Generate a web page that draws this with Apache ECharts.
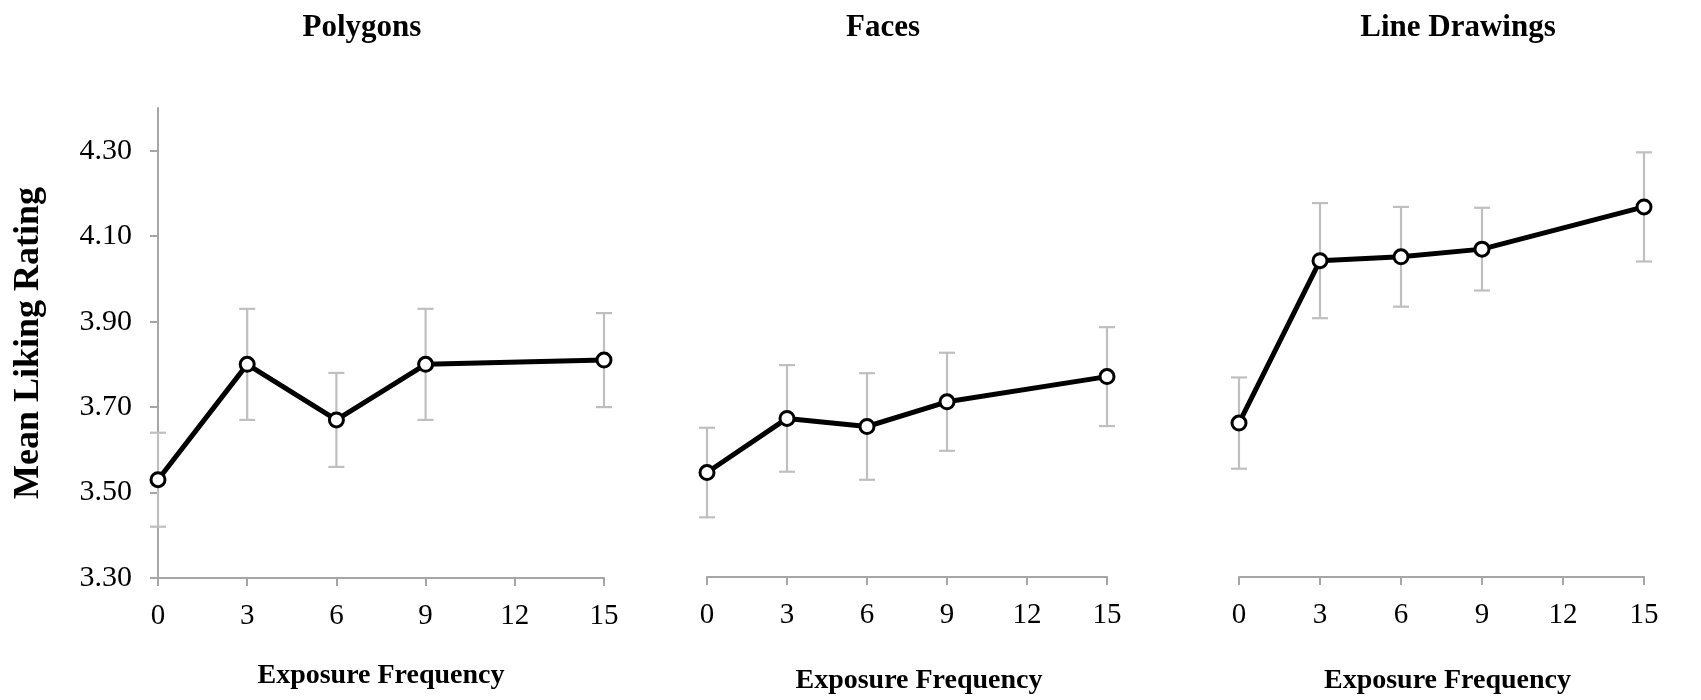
<!DOCTYPE html>
<html>
<head>
<meta charset="utf-8">
<script src="https://cdn.jsdelivr.net/npm/echarts@6/dist/echarts.min.js"></script>
<style>html,body{margin:0;padding:0;background:#fff;}#c{width:1701px;height:700px;}</style>
</head>
<body>
<div id="c"></div>
<script>
const panelTitles = ['Polygons', 'Faces', 'Line Drawings'];
const exposure = [0, 3, 6, 9, 15];
const xTicks = [0, 3, 6, 9, 12, 15];
const yTicks = [3.3, 3.5, 3.7, 3.9, 4.1, 4.3];
const polygonsMean = [3.53, 3.80, 3.67, 3.80, 3.81];
const polygonsErr  = [0.11, 0.13, 0.11, 0.13, 0.11];
const facesMean    = [3.545, 3.672, 3.653, 3.711, 3.770];
const facesErr     = [0.105, 0.125, 0.125, 0.115, 0.116];
const lineMean     = [3.661, 4.042, 4.051, 4.069, 4.168];
const lineErr      = [0.107, 0.135, 0.117, 0.097, 0.128];

const means = [polygonsMean, facesMean, lineMean];
const errs = [polygonsErr, facesErr, lineErr];

const FONT = '"Liberation Serif", "DejaVu Serif", serif';
const AXIS_COLOR = '#a6a6a6';
const ERR_COLOR = '#bfbfbf';

const grids = [
  {left: 158, width: 446, top: 108, height: 470},
  {left: 707, width: 400, top: 108, height: 470},
  {left: 1239, width: 405, top: 108, height: 470}
];
const titleX = [357, 878, 1453];
const xNamePad = [[0, 0, 0, 0], [0, 0, 0, 24], [0, 0, 0, 12]];

const xAxes = grids.map((g, i) => ({
  type: 'value', gridIndex: i, min: 0, max: 15, interval: 3,
  name: 'Exposure Frequency', nameLocation: 'middle', nameGap: i === 0 ? 84 : 90,
  nameTextStyle: {fontFamily: FONT, fontWeight: 'bold', fontSize: 28, color: '#000', padding: xNamePad[i]},
  axisLine: {show: true, lineStyle: {color: AXIS_COLOR, width: 2}},
  axisTick: {show: true, length: 8, inside: false, customValues: xTicks, lineStyle: {color: AXIS_COLOR, width: 2}},
  axisLabel: {fontFamily: FONT, fontSize: 29, color: '#000', margin: 24, customValues: xTicks},
  splitLine: {show: false}
}));

const yAxes = grids.map((g, i) => ({
  type: 'value', gridIndex: i, min: 3.3, max: 4.4,
  show: i === 0,
  name: i === 0 ? 'Mean Liking Rating' : '',
  nameLocation: 'middle', nameGap: 111,
  nameTextStyle: {fontFamily: FONT, fontWeight: 'bold', fontSize: 36, color: '#000'},
  axisLine: {show: true, lineStyle: {color: AXIS_COLOR, width: 2}},
  axisTick: {show: true, length: 8, inside: false, customValues: yTicks, lineStyle: {color: AXIS_COLOR, width: 2}},
  axisLabel: {fontFamily: FONT, fontSize: 30, color: '#000', margin: 26, customValues: yTicks,
    formatter: v => v.toFixed(2)},
  splitLine: {show: false}
}));

const series = [];
for (let i = 0; i < 3; i++) {
  const errData = exposure.map((x, k) => [x, means[i][k] - errs[i][k], means[i][k] + errs[i][k]]);
  series.push({
    type: 'custom', xAxisIndex: i, yAxisIndex: i, z: 1,
    data: errData,
    renderItem: function (params, api) {
      const x = api.value(0);
      const lo = api.coord([x, api.value(1)]);
      const hi = api.coord([x, api.value(2)]);
      const hw = 8;
      const style = {stroke: ERR_COLOR, lineWidth: 2.2, fill: null};
      return {type: 'group', children: [
        {type: 'line', shape: {x1: lo[0], y1: lo[1], x2: hi[0], y2: hi[1]}, style: style},
        {type: 'line', shape: {x1: lo[0] - hw, y1: lo[1], x2: lo[0] + hw, y2: lo[1]}, style: style},
        {type: 'line', shape: {x1: hi[0] - hw, y1: hi[1], x2: hi[0] + hw, y2: hi[1]}, style: style}
      ]};
    },
    silent: true
  });
  series.push({
    type: 'line', xAxisIndex: i, yAxisIndex: i, z: 3,
    data: exposure.map((x, k) => [x, means[i][k]]),
    symbol: 'circle', symbolSize: 14, showAllSymbol: true,
    lineStyle: {color: '#000', width: 5},
    itemStyle: {color: '#fff', borderColor: '#000', borderWidth: 3},
    animation: false, silent: true
  });
}

const chart = echarts.init(document.getElementById('c'));
chart.setOption({
  animation: false,
  backgroundColor: '#fff',
  title: panelTitles.map((t, i) => ({
    text: t, left: titleX[i], top: 7, textAlign: 'center',
    textStyle: {fontFamily: FONT, fontWeight: 'bold', fontSize: 31, color: '#000'}
  })),
  grid: grids,
  xAxis: xAxes,
  yAxis: yAxes,
  series: series
});
</script>
</body>
</html>
